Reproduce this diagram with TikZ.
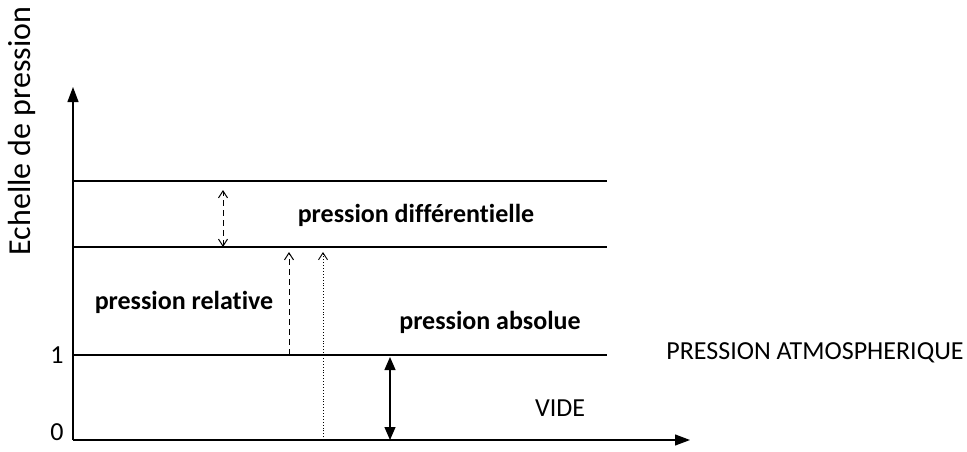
\documentclass[tikz,border=0pt]{standalone}
\usepackage{fontspec}
\setmainfont[Ligatures=NoCommon]{Carlito}
\usetikzlibrary{arrows.meta}
\begin{document}
\begin{tikzpicture}[x=1pt,y=-1pt,
  lvl/.style={line width=1.1pt},
  axis/.style={line width=1.2pt,-{Triangle[length=15pt,width=11pt]}},
  lbl/.style={font=\fontsize{26}{30}\selectfont\bfseries,inner sep=0pt},
  plain/.style={font=\fontsize{26}{30}\selectfont,inner sep=0pt},
  open/.style={{Straight Barb[length=7pt,width=9pt]}-{Straight Barb[length=7pt,width=9pt]}},
]
\useasboundingbox (0,0) rectangle (967,452);
\coordinate (O) at (73,440);
\coordinate (Ytip) at (73,87);
\coordinate (Xtip) at (690,440);
\draw[axis] (O) -- (Ytip);
\draw[axis] (O) -- (Xtip);
\coordinate (L1a) at (73,181); \coordinate (L1b) at (607,181);
\coordinate (L2a) at (73,247); \coordinate (L2b) at (607,247);
\coordinate (L3a) at (73,355); \coordinate (L3b) at (607,355);
\draw[lvl] (L1a) -- (L1b);
\draw[lvl] (L2a) -- (L2b);
\draw[lvl] (L3a) -- (L3b);
\node[font=\fontsize{32}{36}\selectfont,inner sep=0pt,rotate=90] (ech) at (22,131) {Echelle de pression};
\node[plain] (one) at (57,355) {1};
\node[plain] (zero) at (57,432) {0};
\coordinate (d1t) at (223,190); \coordinate (d1b) at (223,247);
\draw[line width=1pt,dash pattern=on 6pt off 4pt,open] (d1b) -- (d1t);
\coordinate (d2t) at (289,252); \coordinate (d2b) at (289,355);
\draw[line width=1pt,dash pattern=on 6pt off 4pt,-{Straight Barb[length=7pt,width=9pt]}] (d2b) -- (d2t);
\coordinate (d3t) at (323,252); \coordinate (d3b) at (323,440);
\draw[line width=0.9pt,dotted,-{Straight Barb[length=7pt,width=9pt]}] (d3b) -- (d3t);
\coordinate (s1t) at (390,357); \coordinate (s1b) at (390,440);
\draw[line width=1.2pt,{Triangle[length=13pt,width=11pt]}-{Triangle[length=13pt,width=11pt]}] (s1t) -- (s1b);
\node[lbl] (pd) at (416,215) {pression différentielle};
\node[lbl] (pr) at (184,302) {pression relative};
\node[lbl] (pa) at (490,322) {pression absolue};
\node[plain] (patm) at (815,353) {PRESSION ATMOSPHERIQUE};
\node[plain] (vide) at (560,408) {VIDE};
\end{tikzpicture}
\end{document}
